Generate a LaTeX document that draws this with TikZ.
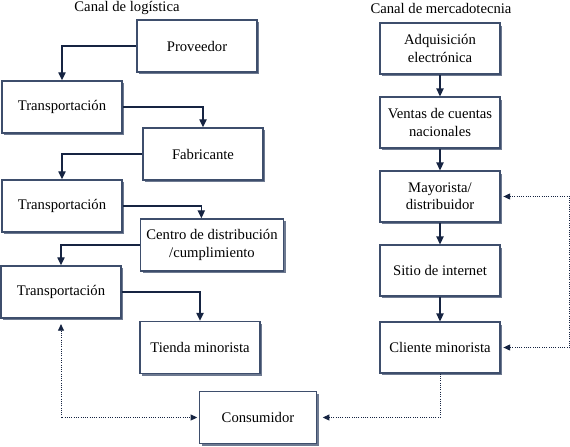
\documentclass[tikz,border=0pt]{standalone}
\usepackage{fontspec}
\setmainfont{Liberation Serif}
\usetikzlibrary{arrows.meta,shadows}
\definecolor{navyline}{RGB}{22, 36, 66}
\definecolor{boxline}{RGB}{62, 78, 108}
\definecolor{boxshade}{RGB}{110, 122, 145}

\tikzset{
  chanbox/.style={draw=boxline, line width=1.1pt, fill=white, align=center,
    minimum width=90pt, minimum height=39pt, inner sep=2pt,
    font=\fontsize{11}{13}\selectfont,
    drop shadow={shadow xshift=1.8pt, shadow yshift=-1.8pt, fill=boxshade, opacity=1}},
  flow/.style={draw=navyline, line width=1pt, -{Triangle[length=6pt,width=5.5pt]}},
  backflow/.style={draw=navyline, line width=0.7pt, densely dotted, {Triangle[length=5pt,width=4.5pt]}-{Triangle[length=5pt,width=4.5pt]}},
  chantitle/.style={font=\fontsize{11}{13}\selectfont}
}

\begin{document}
\begin{tikzpicture}[x=0.75pt, y=-0.75pt]
  \useasboundingbox (0,0) rectangle (570,446);

  % titulos
  \node[chantitle] (titlog) at (127,8) {Canal de logística};
  \node[chantitle] (titmer) at (441,8) {Canal de mercadotecnia};

  % canal de logistica
  \node[chanbox]                      (prov)    at (197,46)    {Proveedor};
  \node[chanbox]                      (trans1)  at (62,107)    {Transportación};
  \node[chanbox]                      (fabr)    at (203,154)   {Fabricante};
  \node[chanbox]                      (trans2)  at (62,206)    {Transportación};
  \node[chanbox, minimum width=107pt] (centro)  at (212,245)   {Centro de distribución\\/cumplimiento};
  \node[chanbox]                      (trans3)  at (61,292)    {Transportación};
  \node[chanbox]                      (tienda)  at (200,347.5) {Tienda minorista};
  \node[chanbox, minimum width=88pt]  (consum)  at (258,417.5) {Consumidor};

  % canal de mercadotecnia
  \node[chanbox, minimum height=38pt] (adq)     at (440,48.5)  {Adquisición\\electrónica};
  \node[chanbox, minimum height=38pt] (ventas)  at (440,122.5) {Ventas de cuentas\\nacionales};
  \node[chanbox, minimum height=38pt] (mayor)   at (440,196.5) {Mayorista/\\distribuidor};
  \node[chanbox, minimum height=38pt] (sitio)   at (440,270.5) {Sitio de internet};
  \node[chanbox, minimum height=38pt] (cliente) at (440,347.5) {Cliente minorista};

  % flechas
  \draw[flow] (prov.west) -| (trans1.north);
  \draw[flow] (trans1.east) -| (fabr.north);
  \draw[flow] (fabr.west) -| (trans2.north);
  \draw[flow] (trans2.east) -| ([xshift=-8pt]centro.north);
  \draw[flow] (centro.west) -| (trans3.north);
  \draw[flow] (trans3.east) -| (tienda.north);

  \draw[flow] (adq) -- (ventas);
  \draw[flow] (ventas) -- (mayor);
  \draw[flow] (mayor) -- (sitio);
  \draw[flow] (sitio) -- (cliente);

  % flujos punteados
  \draw[backflow, shorten <=4pt, shorten >=1pt] (trans3.south) |- (consum.west);
  \draw[backflow, shorten <=2pt, shorten >=2pt] (mayor.east) -- ++(69,0) |- (cliente.east);
  \draw[backflow, {}-{Triangle[length=5pt,width=4.5pt]}, shorten >=4pt] (cliente.south) |- (consum.east);
\end{tikzpicture}
\end{document}
